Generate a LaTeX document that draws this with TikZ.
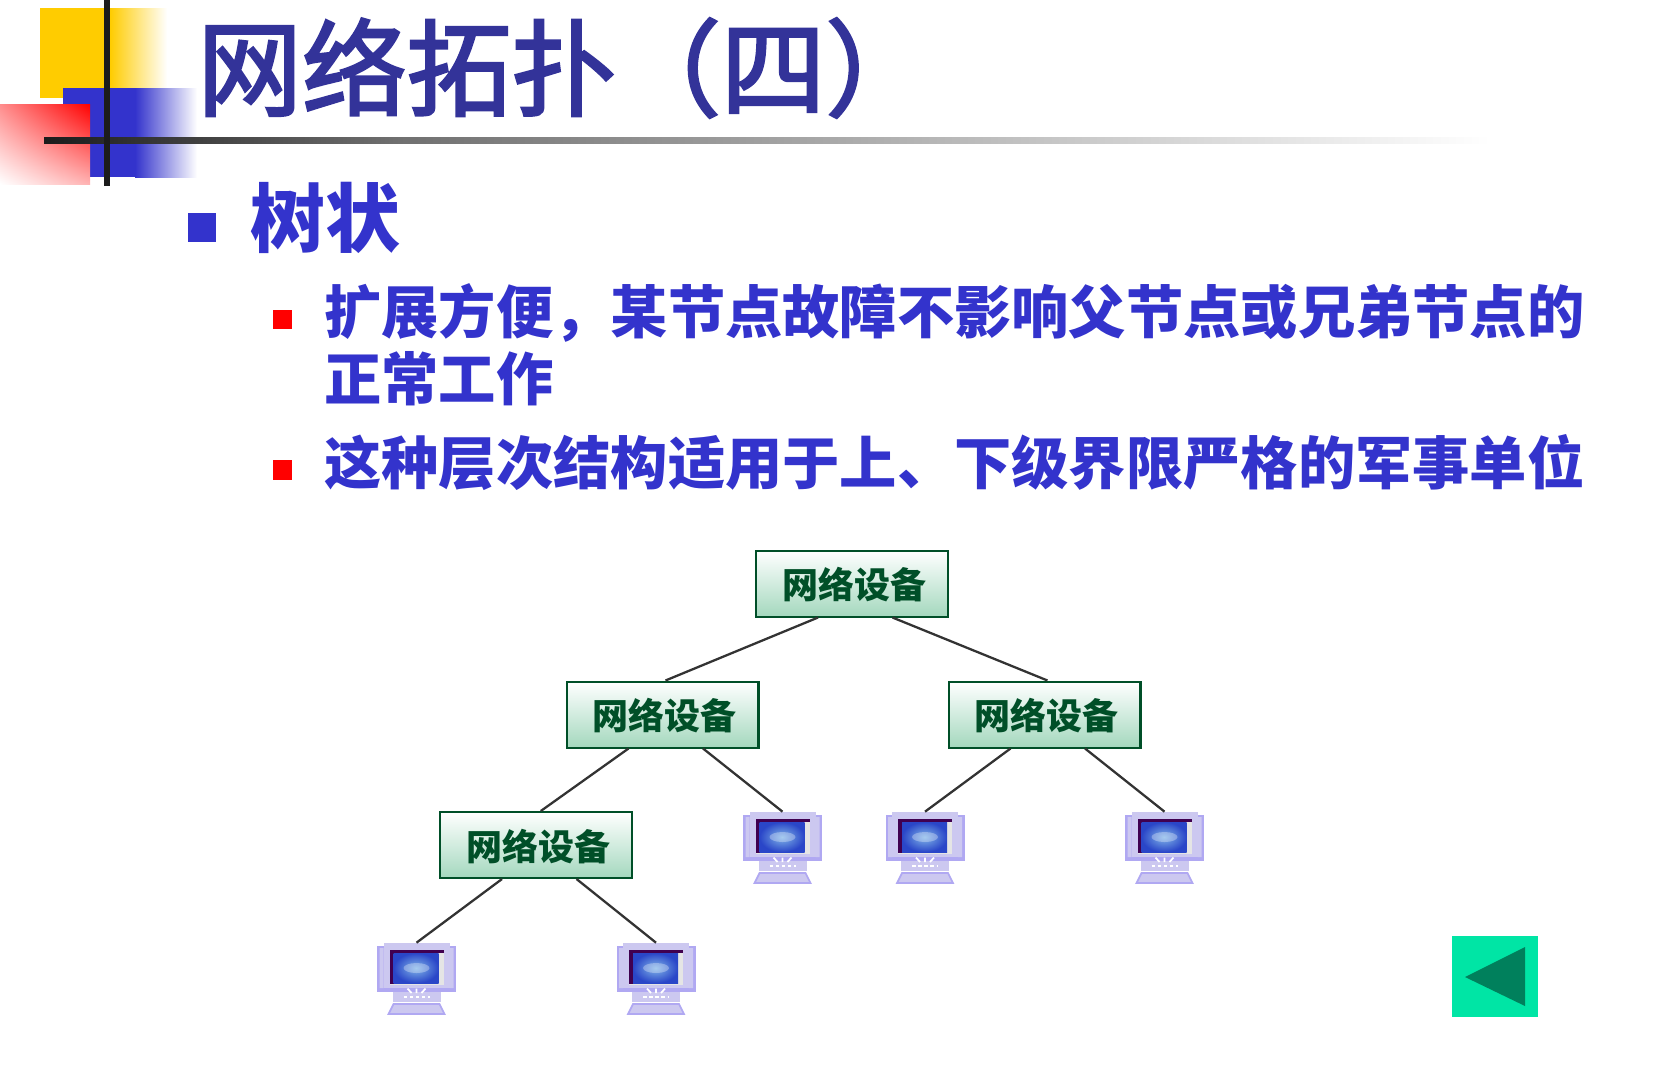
\documentclass[tikz,border=0pt]{standalone}
\usepackage{fontspec}
\setmainfont{Noto Sans CJK SC}
\newfontfamily\titlefont[FakeBold=2.5]{Noto Sans CJK SC}
\usetikzlibrary{shadings}
\definecolor{titleblue}{HTML}{333399}
\definecolor{textblue}{HTML}{3333CC}
\definecolor{logoyellow}{HTML}{FFCC00}
\definecolor{logoline}{HTML}{1C1C1C}
\definecolor{boxgreen}{HTML}{004F28}
\definecolor{boxshade}{HTML}{A4D8BE}
\definecolor{navgreen}{HTML}{00E5A5}
\definecolor{navdark}{HTML}{00805C}
\definecolor{pcbody}{HTML}{CCC8F0}
\definecolor{pcedge}{HTML}{B0A8F2}
\definecolor{pcscreen}{HTML}{2A46C8}
\definecolor{pcglow}{HTML}{80B4E8}
\definecolor{pcdark}{HTML}{400050}
\begin{document}
\begin{tikzpicture}[x=0.02cm,y=-0.02cm,inner sep=0pt]
  \useasboundingbox(0,0)rectangle(1655,1066);
  % logo
  \fill[logoyellow](40,8)rectangle(110,98);
  \shade[left color=logoyellow,right color=white](110,8)rectangle(167,98);
  \fill[textblue](63,88)rectangle(135,177);
  \shade[left color=textblue,middle color=textblue!35,right color=white](135,88)rectangle(197,177);
  \shade[upper right=red,upper left=red!45,lower right=red!30,lower left=white](0,104)rectangle(90,184);
  \shade[left color=logoline,right color=black!56](44,137)rectangle(400,143);
  \shade[left color=black!56,middle color=black!15,right color=white](400,137)rectangle(1490,143);
  \fill[logoline](104,0)rectangle(110,186);
  % texts
  \tikzstyle{main}=[anchor=west,align=left,font=\bfseries\fontsize{32.6}{38}\selectfont,text=textblue]
  \node[anchor=west,text=titleblue,font=\titlefont\fontsize{59.6}{60}\selectfont](title)at(197,68){网络拓扑（四）};
  \fill[textblue](188,213)rectangle(216,242);
  \node[main,font=\bfseries\fontsize{42.7}{50}\selectfont](tree)at(250,218){树状};
  \fill[red](273,310)rectangle(292,329);
  \node[main,anchor=north west](item1)at(324,283){扩展方便，某节点故障不影响父节点或兄弟节点的\\正常工作};
  \fill[red](273,460)rectangle(292,480);
  \node[main](item2)at(324,463){这种层次结构适用于上、下级界限严格的军事单位};
  % nodes
  \tikzstyle{dev}=[draw=boxgreen,line width=1.15pt,top color=white,bottom color=boxshade,text=boxgreen,minimum width=3.84cm,minimum height=1.32cm,text height=19.8pt,text depth=2.5pt,font=\bfseries\fontsize{20.5}{24}\selectfont]
  \tikzstyle{pc}=[minimum width=1.58cm,minimum height=1.44cm]
  \node[dev](dev1)at(852,583.5){\hspace{2.5pt}网络设备};
  \node[dev](dev2)at(662.5,714.5){\hspace{2.5pt}网络设备};
  \node[dev](dev3)at(1044.5,714.5){\hspace{2.5pt}网络设备};
  \node[dev](dev4)at(536,845){\hspace{2.5pt}网络设备};
  \node[pc](pc1)at(782.5,848){};
  \node[pc](pc2)at(925,848){};
  \node[pc](pc3)at(1164.5,848){};
  \node[pc](pc4)at(416.5,979){};
  \node[pc](pc5)at(656,979){};
  \foreach\c in{pc1,pc2,pc3,pc4,pc5}{
    \begin{scope}[shift={(\c.center)}]
      \fill[pcedge](-39.5,-33)rectangle(39.5,13);
      \fill[pcbody](-33,-36)rectangle(33,9);
      \fill[pcbody](-37,-31)rectangle(-33,9)(33,-31)rectangle(37,9);
      \fill[pcbody](-24,13)rectangle(24,23);
      \draw[white,line width=1pt,dash pattern=on 2pt off 1.5pt](-13,18)--(13,18);
      \draw[white,line width=1pt](-9,9.5)--(-5,14)(0,9.5)--(0,14)(9,9.5)--(5,14);
      \filldraw[fill=pcbody,draw=pcedge,line width=1pt](-23,25)--(23,25)--(28,35)--(-28,35)--cycle;
      \fill[black!10](-27,-29)rectangle(27,6);
      \fill[pcdark](-27,-29)rectangle(27,-26);
      \fill[pcdark](-27,-29)rectangle(-23,5);
      \shade[inner color=pcglow,outer color=pcscreen](-23,-26)rectangle(22,4);
      \fill[white,opacity=0.3](0,-11)ellipse(13 and 5);
    \end{scope}
  }
  % connectors
  \tikzstyle{e}=[draw=black!80,line width=1.3pt]
  \foreach\o/\d in{dev1.225/dev2.85,dev1.320/dev3.85,dev2.225/dev4.82,dev2.320/pc1.north,dev3.225/pc2.north,dev3.320/pc3.north,dev4.225/pc4.north,dev4.320/pc5.north}{\draw[e](\o)--(\d);}
  % back button
  \node[fill=navgreen,minimum width=1.72cm,minimum height=1.62cm](back)at(1495,976.5){};
  \fill[navdark](1465,977)--(1525,947)--(1525,1006)--cycle;
\end{tikzpicture}
\end{document}
